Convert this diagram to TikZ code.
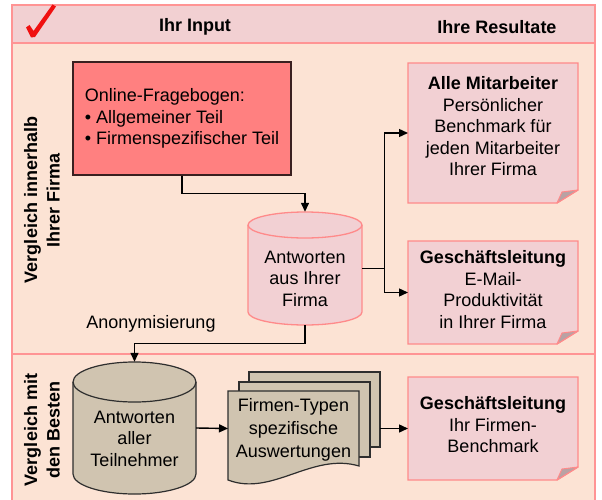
\documentclass[tikz,border=0pt]{standalone}
\usepackage{fontspec}
\setmainfont{Liberation Sans}
\usetikzlibrary{arrows.meta,calc}
\definecolor{frameC}{HTML}{FF9494}
\definecolor{headC}{HTML}{F2D0D2}
\definecolor{peachC}{HTML}{FCE3D4}
\definecolor{noteC}{HTML}{F2D0D3}
\definecolor{noteLine}{HTML}{FF8A8A}
\definecolor{redboxC}{HTML}{FF8080}
\definecolor{redboxLine}{HTML}{3A2020}
\definecolor{tanC}{HTML}{D0C4B0}
\definecolor{tanLine}{HTML}{2E2E2E}
\definecolor{foldC}{HTML}{B8A2A4}
\definecolor{checkC}{HTML}{F01010}
\newcommand\mycyl[7]{%
  \path[#7] (#2-#5,#3+#6) -- (#2-#5,#4-#6)
    arc[start angle=180,end angle=360,x radius=#5pt,y radius=#6pt]
    -- (#2+#5,#3+#6)
    arc[start angle=0,end angle=180,x radius=#5pt,y radius=#6pt] -- cycle;
  \draw[#7,fill=none] (#2-#5,#3+#6)
    arc[start angle=180,end angle=360,x radius=#5pt,y radius=#6pt];
  \node[minimum width={2*#5pt},minimum height={(#4-#3)*1pt}] (#1) at (#2,{(#3+#4)/2}) {};
}
\newcommand\mynote[1]{%
  \draw[notestyle] (#1.north west) -- (#1.north east) -- ($(#1.south east)+(0,-13)$)
    -- ($(#1.south east)+(-21,0)$) -- (#1.south west) -- cycle;
  \filldraw[foldstyle] ($(#1.south east)+(-21,0)$) -- ($(#1.south east)+(-16,-11)$)
    -- ($(#1.south east)+(0,-13)$) -- cycle;
}
\begin{document}
\begin{tikzpicture}[x=1pt,y=-1pt,
  txt/.style={font=\fontsize{18}{21.5}\selectfont,inner sep=0pt,align=center},
  btxt/.style={font=\fontsize{18}{21.5}\selectfont\bfseries,inner sep=0pt,align=center},
  framestyle/.style={draw=frameC,line width=1.5pt},
  notestyle/.style={fill=noteC,draw=noteLine,line width=1.3pt,line join=miter},
  foldstyle/.style={fill=foldC,draw=noteLine,line width=1pt,line join=round},
  cylpink/.style={fill=noteC,draw=noteLine,line width=1.3pt},
  cyltan/.style={fill=tanC,draw=tanLine,line width=1.2pt},
  docstyle/.style={fill=tanC,draw=tanLine,line width=1.2pt},
  conn/.style={draw=black,line width=1.4pt},
  arr/.style={conn,-{Triangle[length=9pt,width=8pt]}},
  blank/.style={inner sep=0pt,outer sep=0pt}]
\useasboundingbox (0,0) rectangle (602,500);
% frame
\fill[peachC] (12,5) rectangle (595,510);
\fill[headC] (12,5) rectangle (595,43);
\draw[framestyle] (12,510) -- (12,5) -- (595,5) -- (595,510);
\draw[framestyle] (12,43) -- (595,43);
\draw[framestyle] (12,354) -- (595,354);
% check mark
\fill[checkC] (26,27.5) -- (29.5,25) -- (33.5,31) -- (52.5,4.5) -- (56,6.5) -- (35,37) -- (31,37.5) -- cycle;
% header
\node[btxt] (hin) at (195,27) {Ihr Input};
\node[btxt] (hres) at (497,27) {Ihre Resultate};
% side labels
\node[btxt,rotate=90,font=\fontsize{18}{22.5}\selectfont\bfseries] (side1) at (42,200) {Vergleich innerhalb\\Ihrer Firma};
\node[btxt,rotate=90,font=\fontsize{18}{22.5}\selectfont\bfseries] (side2) at (42,430) {Vergleich mit\\den Besten};
% red box
\node[txt,align=left,fill=redboxC,draw=redboxLine,line width=1.3pt,
      minimum width=218pt,minimum height=113pt] (fb) at (182,118.5)
  {Online-Fragebogen:\\\textbullet{} Allgemeiner Teil\\\textbullet{} Firmenspezifischer Teil};
% cylinder 1
\mycyl{c1}{305}{212}{325}{57}{13}{cylpink}
\node[txt] (c1t) at (305,278.5) {Antworten\\aus Ihrer\\Firma};
% cylinder 2
\mycyl{c2}{134.5}{362}{494}{61.5}{20}{cyltan}
\node[txt] (c2t) at (134.5,438.5) {Antworten\\aller\\Teilnehmer};
% notes
\node[blank,minimum width=170pt,minimum height=140pt,anchor=north west] (n1) at (408,63) {};
\node[blank,minimum width=170pt,minimum height=103pt,anchor=north west] (n2) at (408,241) {};
\node[blank,minimum width=170pt,minimum height=103pt,anchor=north west] (n3) at (408,377) {};
\mynote{n1}
\mynote{n2}
\mynote{n3}
\node[txt] (n1t) at (493,126.5) {\textbf{Alle Mitarbeiter}\\Persönlicher\\Benchmark für\\jeden Mitarbeiter\\Ihrer Firma};
\node[txt] (n2t) at (493,289.5) {\textbf{Geschäftsleitung}\\E-Mail-\\Produktivität\\in Ihrer Firma};
\node[txt] (n3t) at (493,425) {\textbf{Geschäftsleitung}\\Ihr Firmen-\\Benchmark};
% multi document
\draw[docstyle] (249,372) rectangle (380,447);
\draw[docstyle] (239,382) rectangle (370,457);
\draw[docstyle] (228,391) -- (359,391) -- (359,466)
   .. controls (312,452) and (272,497) .. (228,480) -- cycle;
\node[blank,minimum width=152pt,minimum height=113pt] (md) at (304,428.5) {};
\node[txt] (mdt) at (293.5,430) {Firmen-Typen\\[1.5pt]spezifische\\[1.5pt]Auswertungen};
% connectors
\draw[arr] (fb.south) -- ++(0,18) -| (c1.north);
\draw[conn] (c1.east) -- ++(22,0) coordinate (split);
\draw[arr] (split) |- (n1.west);
\draw[arr] (split) |- (n2.west);
\draw[arr] (c1.south) -- ++(0,18) -| (c2.north);
\node[txt] (anon) at (151,324) {Anonymisierung};
\draw[arr] (c2.east) -- (md.west);
\draw[arr] (md.east) -- (n3.west);
\end{tikzpicture}
\end{document}
